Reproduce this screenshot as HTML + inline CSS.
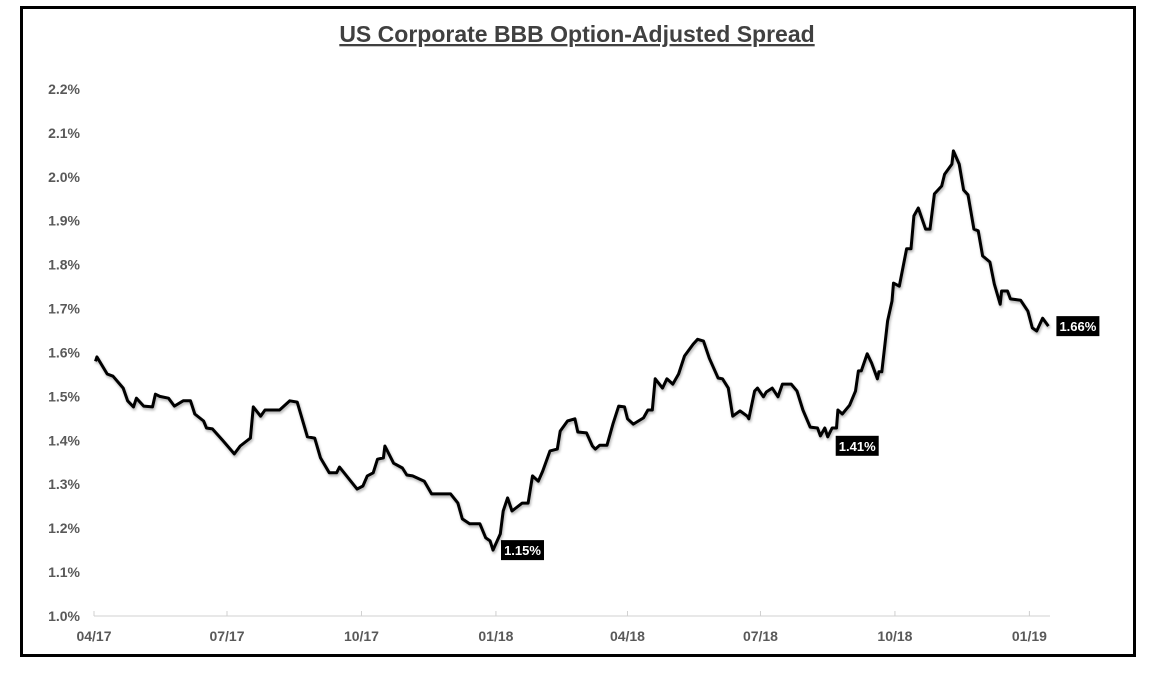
<!DOCTYPE html>
<html><head><meta charset="utf-8"><style>
html,body{margin:0;padding:0;background:#fff;}
body{width:1156px;height:686px;overflow:hidden;font-family:"Liberation Sans",sans-serif;}
#frame{position:absolute;left:20px;top:6px;width:1110px;height:645px;border:3px solid #000;}
</style></head><body>
<div id="frame"></div>
<svg id="chart" width="1156" height="686" style="position:absolute;left:0;top:0">
<defs><filter id="sh" x="-5%" y="-5%" width="110%" height="110%"><feDropShadow dx="1" dy="2" stdDeviation="1.2" flood-color="#000" flood-opacity="0.3"/></filter></defs>
<text x="577" y="42" text-anchor="middle" font-size="23" font-weight="bold" fill="#404040" text-decoration="underline">US Corporate BBB Option-Adjusted Spread</text>
</svg>
<script>
const days=[1,2,9,13,20,23,27,29,34,40,42,45,51,55,61,66,69,75,77,81,88,96,100,107,109,114,117,127,134,139,146,151,155,161,166,168,180,184,187,191,194,198,199,205,211,214,218,226,231,239,244,249,252,257,264,268,271,273,278,280,283,286,293,297,300,304,307,312,317,319,324,329,331,337,341,343,346,351,355,359,363,365,369,376,379,382,384,389,392,396,400,404,410,413,417,421,427,430,434,437,442,447,448,452,454,458,460,464,468,471,477,481,485,490,495,497,500,502,505,508,509,512,517,521,523,525,529,532,536,537,539,543,546,547,551,556,559,561,564,569,572,575,580,582,587,588,592,595,598,602,605,608,613,616,620,621,625,627,634,639,642,645,649,653];
const spread=[1.58,1.59,1.551,1.546,1.519,1.49,1.476,1.496,1.478,1.476,1.505,1.50,1.496,1.478,1.49,1.49,1.46,1.444,1.428,1.426,1.40,1.369,1.387,1.405,1.476,1.455,1.469,1.469,1.49,1.487,1.408,1.405,1.36,1.326,1.326,1.339,1.289,1.296,1.319,1.326,1.357,1.36,1.387,1.348,1.337,1.321,1.319,1.307,1.278,1.278,1.278,1.257,1.221,1.21,1.21,1.178,1.171,1.15,1.187,1.239,1.269,1.239,1.257,1.257,1.319,1.307,1.33,1.376,1.38,1.421,1.444,1.449,1.419,1.417,1.387,1.38,1.389,1.389,1.437,1.478,1.476,1.449,1.437,1.451,1.469,1.469,1.54,1.519,1.54,1.528,1.551,1.592,1.619,1.63,1.626,1.587,1.542,1.54,1.519,1.455,1.467,1.455,1.449,1.512,1.519,1.499,1.51,1.519,1.499,1.528,1.528,1.512,1.469,1.43,1.428,1.41,1.428,1.408,1.428,1.428,1.469,1.46,1.48,1.512,1.558,1.558,1.597,1.576,1.54,1.556,1.556,1.672,1.717,1.758,1.751,1.836,1.836,1.911,1.929,1.881,1.881,1.961,1.979,2.006,2.029,2.059,2.029,1.97,1.959,1.881,1.877,1.82,1.806,1.756,1.71,1.74,1.74,1.722,1.719,1.694,1.656,1.649,1.678,1.66];
const yTicks=[1.0,1.1,1.2,1.3,1.4,1.5,1.6,1.7,1.8,1.9,2.0,2.1,2.2];
const xTickDays=[0,91,183,275,365,456,548,640];
const xTickLabels=["04/17","07/17","10/17","01/18","04/18","07/18","10/18","01/19"];
const NS="http://www.w3.org/2000/svg";
const svg=document.getElementById('chart');
const X=d=>94+d/0.6842;
const Y=v=>616-(v-1.0)*439.2;
function argminIn(d0,d1){let b=-1;days.forEach((d,i)=>{if(d>=d0&&d<=d1&&(b<0||spread[i]<spread[b]))b=i;});return b;}
const labelIdx=[argminIn(0,653),argminIn(470,530),days.length-1];
function mk(tag,attrs){const e=document.createElementNS(NS,tag);for(const k in attrs)e.setAttribute(k,attrs[k]);svg.appendChild(e);return e;}
yTicks.forEach(v=>{
  const t=mk('text',{x:80,y:Y(v)+5,'text-anchor':'end','font-size':14,'font-weight':'bold',fill:'#595959'});
  
  
  t.textContent=v.toFixed(1)+'%';
});
const ax=mk('line',{x1:94,y1:616,x2:1050,y2:616,stroke:'#d0d0d0','stroke-width':1});


xTickDays.forEach((d,i)=>{
  const tk=mk('line',{x1:X(d),y1:611,x2:X(d),y2:616,stroke:'#d0d0d0','stroke-width':1});
  
  
  const t=mk('text',{x:X(d),y:641,'text-anchor':'middle','font-size':14,'font-weight':'bold',fill:'#595959'});
  
  
  t.textContent=xTickLabels[i];
});
const pts=days.map((d,i)=>X(d).toFixed(1)+','+Y(spread[i]).toFixed(1)).join(' ');
const line=mk('polyline',{points:pts,fill:'none',stroke:'#000','stroke-width':3,'stroke-linejoin':'round',filter:'url(#sh)'});


labelIdx.forEach((i,k)=>{
  const x=X(days[i])+8, y=Y(spread[i]);
  const txt=spread[i].toFixed(2)+'%';
  const oy=(k===1?9:0);
  const r=mk('rect',{x:x,y:y+oy-10,width:43,height:20,fill:'#000'});
  
  
  const t=mk('text',{x:x+21.5,y:y+oy+5,'text-anchor':'middle','font-size':13,'font-weight':'bold',fill:'#fff'});
  
  
  t.textContent=txt;
});
</script>
</body></html>
